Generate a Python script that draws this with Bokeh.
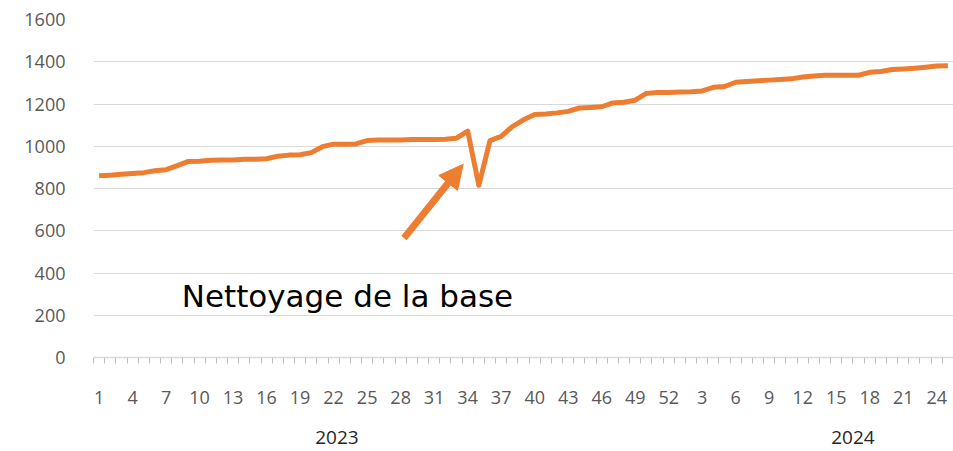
from bokeh.plotting import figure
from bokeh.models import (Range1d, FixedTicker, LinearAxis, Arrow, NormalHead, Label)
from bokeh.embed import file_html
from bokeh.resources import INLINE

# ---- data ----
weeks_2023 = list(range(1, 53))
weeks_2024 = list(range(1, 26))
values_2023 = [860, 863, 867, 871, 875, 884, 889, 908, 928, 929,
               934, 935, 935, 938, 938, 941, 953, 958, 960, 970,
               998, 1010, 1010, 1011, 1027, 1030, 1030, 1030, 1032, 1032,
               1032, 1033, 1038, 1072, 815, 1027, 1047, 1093, 1125, 1150,
               1153, 1158, 1165, 1181, 1184, 1187, 1205, 1208, 1218, 1250,
               1255, 1255]
values_2024 = [1257, 1258, 1262, 1279, 1283, 1303, 1306, 1310, 1313, 1316,
               1319, 1328, 1333, 1336, 1336, 1336, 1336, 1350, 1354, 1363,
               1366, 1369, 1374, 1380, 1381]
years = ["2023", "2024"]
annotation_text = "Nettoyage de la base"

week_labels = [str(w) for w in weeks_2023] + [str(w) for w in weeks_2024]
values = values_2023 + values_2024
idx = list(range(len(values)))
n = len(values)

ORANGE = "#ED7D31"
GRID = "#D9D9D9"
LABEL = "#595959"
FONT = "Open Sans"

p = figure(width=953, height=450, output_backend="svg", toolbar_location=None,
           x_range=Range1d(-0.5, n - 0.5), y_range=Range1d(0, 1600),
           min_border_left=93, min_border_right=0, min_border_top=19,
           min_border_bottom=93)
p.outline_line_color = None
p.background_fill_color = "white"
p.border_fill_color = "white"

p.line(idx, values, line_color=ORANGE, line_width=5, line_join="round")

# y axis
p.yaxis.ticker = FixedTicker(ticks=list(range(0, 1601, 200)))
p.yaxis.axis_line_color = None
p.yaxis.major_tick_line_color = None
p.yaxis.minor_tick_line_color = None
p.yaxis.major_label_text_font = FONT
p.yaxis.major_label_text_font_size = "18px"
p.yaxis.major_label_text_color = LABEL
p.yaxis.major_label_standoff = 22
p.ygrid.grid_line_color = GRID
p.ygrid.grid_line_width = 1
p.xgrid.grid_line_color = None

# x axis
major = list(range(0, n, 3))
p.xaxis.ticker = FixedTicker(ticks=major, minor_ticks=[i - 0.5 for i in range(n + 1)])
p.xaxis.major_label_overrides = {i: week_labels[i] for i in major}
p.xaxis.axis_line_color = GRID
p.xaxis.axis_line_width = 1.5
p.xaxis.major_tick_line_color = None
p.xaxis.major_tick_out = 0
p.xaxis.major_tick_in = 0
p.xaxis.minor_tick_line_color = "#BFBFBF"
p.xaxis.minor_tick_out = 6
p.xaxis.minor_tick_in = 0
p.xaxis.major_label_text_font = FONT
p.xaxis.major_label_text_font_size = "18px"
p.xaxis.major_label_text_color = LABEL
p.xaxis.major_label_standoff = 27

# year axis
year_pos = [21.3, 67.5]
yax = LinearAxis(ticker=FixedTicker(ticks=year_pos, minor_ticks=[]),
                 major_label_overrides={year_pos[i]: years[i] for i in range(2)})
yax.axis_line_color = None
yax.major_tick_line_color = None
yax.major_tick_out = 0
yax.major_tick_in = 0
yax.minor_tick_line_color = None
yax.major_label_text_font = FONT
yax.major_label_text_font_size = "19px"
yax.major_label_text_color = "#262626"
yax.major_label_standoff = 24
p.add_layout(yax, "below")

# annotation arrow and text
p.add_layout(Arrow(end=NormalHead(size=24, fill_color=ORANGE, line_color=ORANGE),
                   x_start=27.3, y_start=565, x_end=32.6, y_end=915,
                   line_color=ORANGE, line_width=7))
p.add_layout(Label(x=7.4, y=293, text=annotation_text, text_font="DejaVu Sans",
                   text_font_size="31px", text_color="#000000",
                   text_baseline="alphabetic"))

open("out.html", "w").write(file_html(p, INLINE))
